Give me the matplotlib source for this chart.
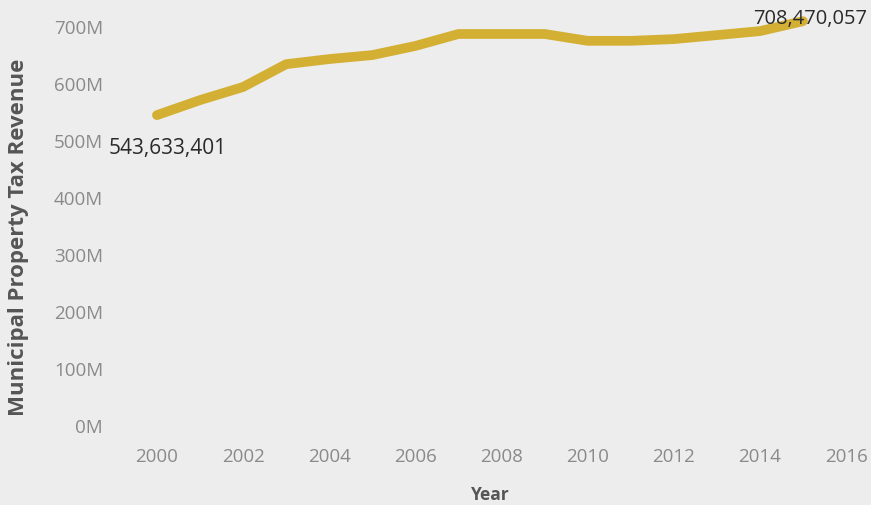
import matplotlib
matplotlib.use("Agg")
import matplotlib.pyplot as plt
from matplotlib.ticker import FuncFormatter

BG = "#ededee"
LINE = "#d3b034"
TICK = "#8a8a8a"
TITLE = "#555555"

years = [2000, 2001, 2002, 2003, 2004, 2005, 2006, 2007,
         2008, 2009, 2010, 2011, 2012, 2013, 2014, 2015]
revenue_m = [543.633401, 570, 593, 633, 642, 649, 665, 686,
             686, 686, 674, 674, 677, 684, 691, 708.470057]
y_ticks_m = [0, 100, 200, 300, 400, 500, 600, 700]
x_ticks = [2000, 2002, 2004, 2006, 2008, 2010, 2012, 2014, 2016]
start_label = "543,633,401"
end_label = "708,470,057"

plt.rcParams["font.family"] = ["Open Sans", "DejaVu Sans"]

fig = plt.figure(figsize=(8.71, 5.06), dpi=100)
fig.patch.set_facecolor(BG)
ax = fig.add_axes([110 / 871, 1 - 435 / 506, (871 - 110) / 871, 430 / 506])
ax.set_facecolor(BG)

ax.plot(years, revenue_m, color=LINE, linewidth=7, solid_capstyle="round",
        solid_joinstyle="round")

ax.set_xlim(1998.91, 2016.58)
ax.set_ylim(-15.8, 738.6)
ax.set_xticks(x_ticks)
ax.set_yticks(y_ticks_m)
ax.yaxis.set_major_formatter(FuncFormatter(lambda v, p: f"{v:.0f}M"))
ax.tick_params(axis="both", length=0, colors=TICK, labelsize=13.5)
ax.tick_params(axis="x", pad=9)
ax.tick_params(axis="y", pad=5)
for s in ax.spines.values():
    s.set_visible(False)

ax.set_xlabel("Year", fontsize=12.5, fontweight="bold", color=TITLE, labelpad=15)
ax.set_ylabel("Municipal Property Tax Revenue", fontsize=16, fontweight="bold",
              color=TITLE)
ax.yaxis.set_label_coords(-0.106, 0.46)

ax.annotate(start_label, (years[0], revenue_m[0]), xytext=(-35, -23),
            textcoords="offset points", fontsize=15, color="#2a2a2a",
            ha="left", va="center")
ax.annotate(end_label, (years[-1], revenue_m[-1]), xytext=(46, 2),
            textcoords="offset points", fontsize=14.5, color="#2a2a2a",
            ha="right", va="center")

fig.savefig("out.png", dpi=100, facecolor=BG)
